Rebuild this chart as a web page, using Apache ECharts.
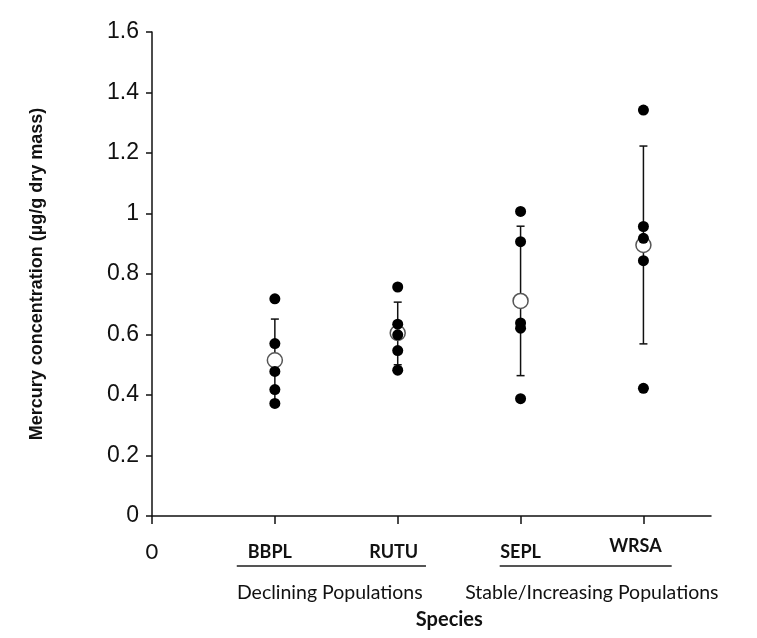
<!DOCTYPE html>
<html>
<head>
<meta charset="utf-8">
<script src="https://cdn.jsdelivr.net/npm/echarts@6/dist/echarts.min.js"></script>
<style>html,body{margin:0;padding:0;background:#fff;}#c{width:757px;height:638px;}</style>
</head>
<body>
<div id="c"></div>
<script>
const categories = ['BBPL', 'RUTU', 'SEPL', 'WRSA'];
const positions = [1, 2, 3, 4];
const individuals = [
  [0.718, 0.570, 0.478, 0.418, 0.372],
  [0.757, 0.634, 0.599, 0.547, 0.482],
  [1.007, 0.907, 0.638, 0.621, 0.388],
  [1.342, 0.957, 0.918, 0.844, 0.422]
];
const means = [0.515, 0.605, 0.711, 0.896];
const errLow = [0.379, 0.500, 0.464, 0.569];
const errHigh = [0.651, 0.707, 0.958, 1.223];
const yTicks = [0, 0.2, 0.4, 0.6, 0.8, 1, 1.2, 1.4, 1.6];
const xTicks = [0, 1, 2, 3, 4];
const groupNames = ['Declining Populations', 'Stable/Increasing Populations'];
const groupSpans = [[0.69, 2.23], [2.83, 4.23]];
const groupCenters = [1.447, 3.58];
const xTitle = 'Species';
const xTitleCenter = 2.42;
const yTitle = 'Mercury concentration (µg/g dry mass)';

const chart = echarts.init(document.getElementById('c'), null, {renderer: 'canvas'});

const dotData = [];
individuals.forEach((arr, i) => arr.forEach(v => dotData.push([positions[i], v])));
const meanData = means.map((m, i) => [positions[i], m]);
const errData = positions.map((p, i) => [p, errLow[i], errHigh[i]]);

const labelStyle = {fontFamily: 'Lato', fontWeight: 'bold', fontSize: 18, color: '#111', lineHeight: 20};
const option = {
  animation: false,
  backgroundColor: '#fff',
  grid: {left: 152, top: 32, width: 559, height: 484, containLabel: false},
  xAxis: {
    type: 'value', min: 0, max: 4.55,
    splitLine: {show: false},
    axisLine: {show: true, onZero: false, lineStyle: {color: '#111', width: 1.5}},
    axisTick: {show: true, customValues: xTicks, length: 8, lineStyle: {color: '#111', width: 1.5}},
    axisLabel: {
      customValues: xTicks, margin: 26,
      formatter: function (v) {
        if (v === 0) return '{zero|0}';
        const name = categories[Math.round(v) - 1];
        return '{' + name + '|' + name + '}';
      },
      rich: {
        zero: {fontFamily: 'Lato', fontSize: 22, color: '#111', lineHeight: 20},
        BBPL: Object.assign({}, labelStyle, {padding: [0, 10, 0, 0]}),
        RUTU: Object.assign({}, labelStyle, {padding: [0, 8, 0, 0]}),
        SEPL: Object.assign({}, labelStyle),
        WRSA: Object.assign({}, labelStyle, {padding: [0, 16, 12, 0]})
      }
    }
  },
  yAxis: {
    type: 'value', min: 0, max: 1.6, interval: 0.2,
    splitLine: {show: false},
    axisLine: {show: true, onZero: false, lineStyle: {color: '#111', width: 1.5}},
    axisTick: {show: true, length: 6, lineStyle: {color: '#111', width: 1.5}},
    axisLabel: {margin: 13, fontFamily: 'Liberation Sans', fontSize: 23, color: '#111'},
    name: yTitle, nameLocation: 'middle', nameGap: 106, nameRotate: 90,
    nameTextStyle: {fontFamily: 'Liberation Sans', fontWeight: 'bold', fontSize: 18, color: '#111'}
  },
  series: [
    {
      type: 'custom', z: 2,
      data: errData,
      renderItem: function (params, api) {
        const x = api.value(0);
        const lo = api.coord([x, api.value(1)]);
        const hi = api.coord([x, api.value(2)]);
        const hw = 4;
        const st = {stroke: '#111', lineWidth: 1.5};
        return {type: 'group', children: [
          {type: 'line', shape: {x1: lo[0], y1: lo[1], x2: hi[0], y2: hi[1]}, style: st},
          {type: 'line', shape: {x1: lo[0] - hw, y1: lo[1], x2: lo[0] + hw, y2: lo[1]}, style: st},
          {type: 'line', shape: {x1: hi[0] - hw, y1: hi[1], x2: hi[0] + hw, y2: hi[1]}, style: st}
        ]};
      }
    },
    {
      type: 'scatter', z: 3, data: meanData, symbol: 'circle', symbolSize: 15,
      itemStyle: {color: '#fff', borderColor: '#555', borderWidth: 1.5, opacity: 1}
    },
    {
      type: 'scatter', z: 4, data: dotData, symbol: 'circle', symbolSize: 11,
      itemStyle: {color: '#000', opacity: 1}
    }
  ]
};
chart.setOption(option);

const base = chart.convertToPixel({gridIndex: 0}, [0, 0])[1];
const graphics = [];
groupSpans.forEach((s, i) => {
  const x1 = chart.convertToPixel({xAxisIndex: 0}, s[0]);
  const x2 = chart.convertToPixel({xAxisIndex: 0}, s[1]);
  graphics.push({type: 'line', shape: {x1: x1, y1: base + 50, x2: x2, y2: base + 50}, style: {stroke: '#555', lineWidth: 2}});
  const cx = chart.convertToPixel({xAxisIndex: 0}, groupCenters[i]);
  graphics.push({type: 'text', x: cx, y: base + 77, style: {text: groupNames[i], font: '19.5px Lato', fill: '#111', align: 'center', verticalAlign: 'middle'}});
});
graphics.push({type: 'text', x: chart.convertToPixel({xAxisIndex: 0}, xTitleCenter), y: base + 104,
  style: {text: xTitle, font: 'bold 20px Lato', fill: '#111', align: 'center', verticalAlign: 'middle'}});
chart.setOption({graphic: graphics});
</script>
</body>
</html>
